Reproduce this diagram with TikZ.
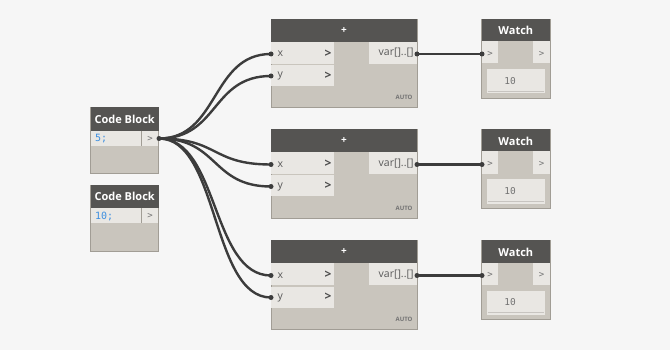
\documentclass[tikz,border=0pt]{standalone}
\usepackage{fontspec}
\setmainfont{Open Sans}
\setmonofont{DejaVu Sans Mono}
\definecolor{canvas}{HTML}{F6F6F6}
\definecolor{hdr}{HTML}{555452}
\definecolor{bodyc}{HTML}{C9C5BD}
\definecolor{rowc}{HTML}{E9E7E3}
\definecolor{edgec}{HTML}{A19D95}
\definecolor{wirec}{HTML}{3C3C3C}
\definecolor{codeblue}{HTML}{3D8FE0}
\tikzset{
  nodebody/.style={fill=bodyc, draw=edgec, line width=0.8pt},
  header/.style={fill=hdr},
  row/.style={fill=rowc},
  wire/.style={draw=wirec, line width=2.4pt},
  portdot/.style={fill=wirec},
  title/.style={text=white, font=\bfseries\fontsize{11}{12}\selectfont},
  lbl/.style={text=black!65, font=\fontsize{10.5}{12}\selectfont},
  chev/.style={text=black!70, font=\bfseries\fontsize{12}{14}\selectfont},
  portlbl/.style={text=black!55, font=\ttfamily\fontsize{9}{10}\selectfont},
}
\begin{document}
\begin{tikzpicture}[x=1pt,y=-1pt]
  \fill[canvas] (0,0) rectangle (670,350);
  \useasboundingbox (0,0) rectangle (670,350);
  % code blocks
  \coordinate (cbA-out) at (159,138.5);
  \coordinate (cbB-out) at (159,216);
  % wires from the first code block
  \foreach \t/\n in {19/1,129.5/2,240.5/3} {
    \coordinate (add\n-x) at (271,\t+35);
    \coordinate (add\n-y) at (271,\t+57);
    \coordinate (add\n-out) at (417,\t+35);
    \coordinate (watch\n-in) at (482,\t+35);
    \draw[wire] (cbA-out) .. controls +(60,0) and +(-60,0) .. (add\n-x);
    \draw[wire] (cbA-out) .. controls +(60,0) and +(-60,0) .. (add\n-y);
    \draw[wire] (add\n-out) -- (watch\n-in);
  }
  % code block 5;
  \draw[nodebody] (90.7,107.3) rectangle (158.7,173.3);
  \fill[header] (90.7,107.3) rectangle (158.7,130.7);
  \fill[row] (91.1,130.7) rectangle (158.3,145.7);
  \draw[edgec,line width=0.6pt] (141,130.7) -- (141,145.7);
  \node[title] (cbA-title) at (124.7,119) {Code Block};
  \node[anchor=west,text=codeblue,font=\ttfamily\fontsize{10}{12}\selectfont] (cbA-code) at (91.5,138.5) {5;};
  \node[portlbl] (cbA-port) at (150,138.5) {>};
  % code block 10;
  \draw[nodebody] (90.7,185) rectangle (158.7,251.7);
  \fill[header] (90.7,185) rectangle (158.7,208.3);
  \fill[row] (91.1,208.3) rectangle (158.3,223.3);
  \draw[edgec,line width=0.6pt] (141,208.3) -- (141,223.3);
  \node[title] (cbB-title) at (124.7,196.5) {Code Block};
  \node[anchor=west,text=codeblue,font=\ttfamily\fontsize{10}{12}\selectfont] (cbB-code) at (91.5,216) {10;};
  \node[portlbl] (cbB-port) at (150,216) {>};
  % addition and watch nodes
  \foreach \t/\n in {19/1,129.5/2,240.5/3} {
    \draw[nodebody] (271,\t) rectangle (417,\t+88.7);
    \fill[header] (271,\t) rectangle (417,\t+22.7);
    \fill[row] (271.4,\t+22.7) rectangle (334,\t+44.8);
    \fill[row] (271.4,\t+46) rectangle (334,\t+67);
    \fill[row] (369,\t+22.7) rectangle (416.6,\t+44.7);
    \node[text=white,font=\bfseries\fontsize{10}{12}\selectfont] (add\n-title) at (344,\t+11.3) {+};
    \node[lbl,anchor=west] (add\n-xl) at (274,\t+35) {x};
    \node[lbl,anchor=west] (add\n-yl) at (274,\t+57) {y};
    \node[chev] (add\n-xc) at (328,\t+34.5) {>};
    \node[chev] (add\n-yc) at (328,\t+56.5) {>};
    \node[lbl,anchor=east] (add\n-ol) at (417,\t+34) {var[]..[]};
    \node[anchor=east,text=black!55,font=\bfseries\fontsize{6}{7}\selectfont] (add\n-auto) at (416,\t+78.5) {AUTO};
    % watch
    \draw[nodebody] (481.7,\t) rectangle (550,\t+79.3);
    \fill[header] (481.7,\t) rectangle (550,\t+22);
    \fill[row] (482.1,\t+22) rectangle (498.3,\t+44.3);
    \fill[row] (533.3,\t+22) rectangle (549.6,\t+44.3);
    \fill[row] (486.7,\t+50) rectangle (545,\t+74.3);
    \draw[edgec!60,line width=0.6pt] (487.5,\t+72) -- (544.2,\t+72);
    \node[title] (watch\n-title) at (515.8,\t+11.5) {Watch};
    \node[portlbl] (watch\n-ip) at (490,\t+34.5) {>};
    \node[portlbl] (watch\n-op) at (541.5,\t+34.5) {>};
    \node[portlbl,font=\ttfamily\fontsize{9.5}{10}\selectfont] (watch\n-val) at (510,\t+62) {10};
    % port ends
    \fill[portdot] (add\n-x) circle (2.5);
    \fill[portdot] (add\n-y) circle (2.5);
    \fill[portdot] (add\n-out) circle (2.5);
    \fill[portdot] (watch\n-in) circle (2.5);
  }
  \fill[portdot] (cbA-out) circle (2.5);
\end{tikzpicture}
\end{document}
